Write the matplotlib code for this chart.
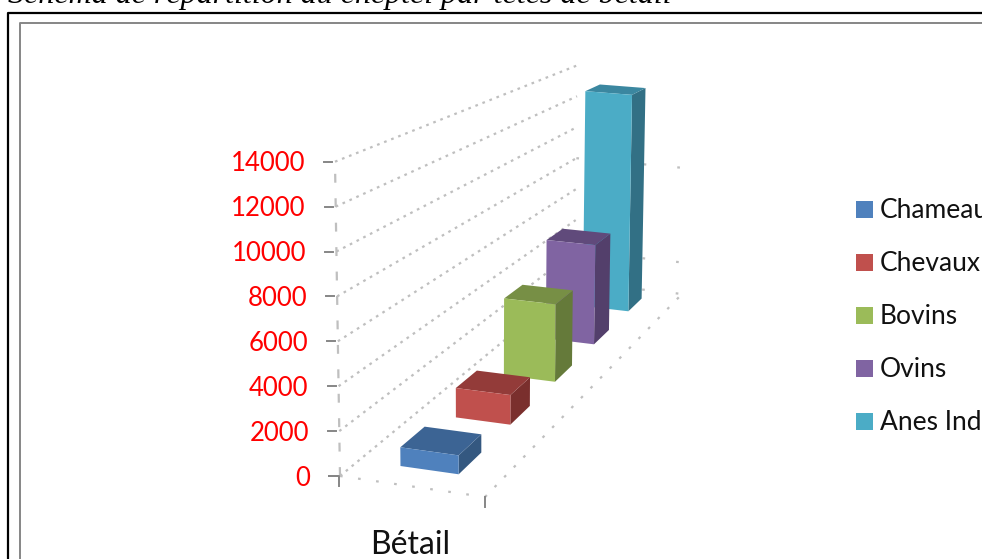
import matplotlib
matplotlib.use("Agg")
import matplotlib.pyplot as plt
from matplotlib.patches import Polygon, Rectangle
import numpy as np

series = ["Chameaux", "Chevaux", "Bovins", "Ovins", "Anes Indigènes"]
values = [850, 1450, 4100, 5650, 13200]
front_cols = ["#4F81BD", "#C0504D", "#9BBB59", "#8064A2", "#4BACC6"]
top_cols = ["#3C6494", "#933B39", "#778F45", "#604A7B", "#3B87A0"]
side_cols = ["#345880", "#7A2F2D", "#657A3A", "#533F6B", "#327085"]
ticks = [0, 2000, 4000, 6000, 8000, 10000, 12000, 14000]
back_ticks = [0, 2000, 8000]

# floor of the 3d box in pixels: front left, front right, back right, back left
FL, FR, BR, BL = (340, 476), (485, 497), (682, 294), (575, 282)
PX_PER_UNIT = 44.9 / 2000

# perspective map of the unit square onto the floor
sx = FL[0] - FR[0] + BR[0] - BL[0]
sy = FL[1] - FR[1] + BR[1] - BL[1]
A = np.array([[FR[0] - BR[0], BL[0] - BR[0]], [FR[1] - BR[1], BL[1] - BR[1]]], dtype=float)
g, h = np.linalg.solve(A, [sx, sy])


def project(w, d, v=0):
    den = g * w + h * d + 1
    x = ((FR[0] - FL[0] + g * FR[0]) * w + (BL[0] - FL[0] + h * BL[0]) * d + FL[0]) / den
    y = ((FR[1] - FL[1] + g * FR[1]) * w + (BL[1] - FL[1] + h * BL[1]) * d + FL[1]) / den
    up = v * PX_PER_UNIT / den ** 1.12
    return x + (x - 480) * 1.14e-4 * up, y - up


fig = plt.figure(figsize=(9.82, 5.59), dpi=100)
ax = fig.add_axes([0, 0, 1, 1])
ax.set_xlim(0, 982)
ax.set_ylim(559, 0)
ax.axis("off")

ax.text(8, 3, "Schéma de répartition du cheptel par têtes de bétail", family="Liberation Serif",
        style="italic", fontsize=23, color="black", va="baseline", ha="left")

# page frame and chart frame
ax.plot([8.5, 8.5, 982], [559, 13, 13], color="black", lw=1.6, solid_capstyle="butt")
ax.plot([20.5, 20.5, 982], [559, 23, 23], color="#868686", lw=1.4, solid_capstyle="butt")

GRID = "#BFBFBF"
ds = np.array([0, 1])
for t in ticks:
    xs, ys = project(0, ds, t)
    ax.plot(xs, ys, color=GRID, lw=1.6, ls=(0, (1.2, 2.2)), zorder=1)
    x0, y0 = project(0, 0, t)
    ax.plot([x0 - 11, x0 - 3], [y0, y0], color="#868686", lw=1.4, zorder=2)
    ax.text(x0 - 30, y0 + 2, str(t), color="red", family="Lato", fontsize=18.5, ha="right", va="center")
for t in back_ticks:
    xs, ys = project(np.array([0, 1]), 1, t)
    ax.plot(xs, ys, color=GRID, lw=1.6, ls=(0, (1.2, 14)), zorder=1)

xs, ys = project(0, 0, np.array([0, 14000]))
ax.plot(xs, ys, color=GRID, lw=1.6, ls=(0, (4, 7)), zorder=1)
xs, ys = project(np.array([0, 1]), 0)
ax.plot(xs, ys, color=GRID, lw=1.6, ls=(0, (1.2, 7)), zorder=1)
xs, ys = project(1, ds)
ax.plot(xs, ys, color=GRID, lw=1.6, ls=(0, (1.2, 5)), zorder=1)

# corner and end ticks of the floor
x0, y0 = project(0, 0)
ax.plot([x0 - 11, x0 - 1, x0 - 1], [y0, y0, y0 + 10], color="#868686", lw=1.4, zorder=2)
x1, y1 = project(1, 0)
ax.plot([x1, x1], [y1, y1 + 10], color="#868686", lw=1.4, zorder=2)

# bars, back to front
W0, W1 = 0.295, 0.705
for i in range(len(series) - 1, -1, -1):
    d0 = (i + 0.30) / 5
    d1 = (i + 0.72) / 5
    v = values[i]
    front = [project(W0, d0), project(W1, d0), project(W1, d0, v), project(W0, d0, v)]
    side = [project(W1, d0), project(W1, d1), project(W1, d1, v), project(W1, d0, v)]
    top = [project(W0, d0, v), project(W1, d0, v), project(W1, d1, v), project(W0, d1, v)]
    ax.add_patch(Polygon(side, closed=True, fc=side_cols[i], ec="none", zorder=3 + 5 - i))
    ax.add_patch(Polygon(top, closed=True, fc=top_cols[i], ec="none", zorder=3 + 5 - i))
    ax.add_patch(Polygon(front, closed=True, fc=front_cols[i], ec="none", zorder=3 + 5 - i))

# legend
for i, name in enumerate(series):
    ly = 209.5 + i * 53
    ax.add_patch(Rectangle((856, ly - 8.5), 17, 17, fc=front_cols[i], ec="none"))
    ax.text(880, ly + 1, name, family="Lato", fontsize=19, color="#111111", va="center", ha="left")

ax.text(410.5, 545, "Bétail", family="Lato", fontsize=23, color="#111111", ha="center", va="center")

fig.savefig("out.png", dpi=100)
